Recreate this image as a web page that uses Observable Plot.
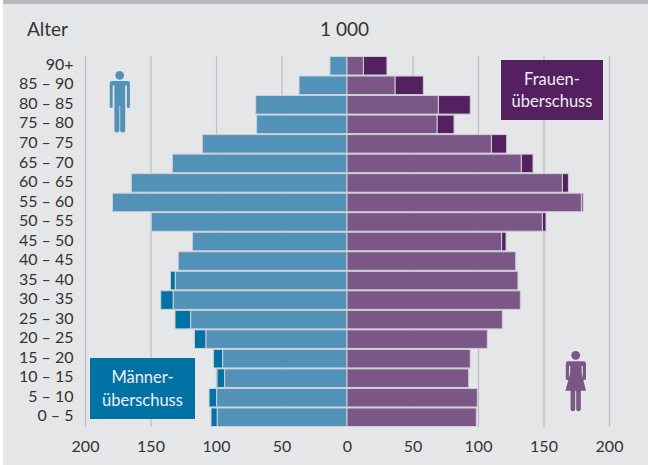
<!DOCTYPE html>
<html><head><meta charset="utf-8">
<script src="https://cdn.jsdelivr.net/npm/d3@7"></script>
<script src="https://cdn.jsdelivr.net/npm/@observablehq/plot@0.6"></script>
<style>
html,body{margin:0;padding:0;background:#fff;}
#wrap{position:relative;width:648px;height:465px;overflow:hidden;font-family:Lato,sans-serif;color:#333;}
#panel{position:absolute;left:3px;top:4px;right:0;bottom:0;background:#e5e6e8;}
#band{position:absolute;left:3px;top:0;right:0;height:4px;background:#b9babd;}
#chart{position:absolute;left:0;top:0;}
#chart svg{background:transparent!important;display:block;}
.head{position:absolute;font-size:19px;line-height:22px;white-space:nowrap;}
.box{position:absolute;color:#f0eef2;font-size:16.5px;line-height:22.5px;text-align:center;display:flex;align-items:center;justify-content:center;}
.icon{position:absolute;left:0;top:0;}
</style></head>
<body>
<div id="wrap">
<div id="panel"></div><div id="band"></div>
<div id="chart"></div>
<div class="head" style="left:27px;top:18px">Alter</div>
<div class="head" style="left:320px;top:18px">1 000</div>
<div class="box" style="left:501px;top:60px;width:102px;height:60px;background:#55205f">Frauen-<br>überschuss</div>
<div class="box" style="left:90px;top:358px;width:105px;height:61px;background:#0072a3">Männer-<br>überschuss</div>
<svg class="icon" width="648" height="465">
  <g fill="#5291b8">
    <circle cx="119.7" cy="75.3" r="4.4"/>
    <path d="M111.5 81h16.2q2.2 0 2.2 2.2V106.5a1.5 1.5 0 0 1-3 0V85.5h-1.7V130a1.7 1.7 0 0 1-5 0V106h-.8V130a1.7 1.7 0 0 1-5 0V85.5h-1.7V106.5a1.5 1.5 0 0 1-3 0V83.2q0-2.2 2.8-2.2z"/>
  </g>
  <g fill="#7a5787">
    <circle cx="575.7" cy="355.3" r="4.4"/>
    <path d="M568 361.3h15.6q2.4 0 2.4 2.4V378.5a1.6 1.6 0 0 1-3.2 0V366h-1.3l.3 8 4.2 16.7h-5.2V409a1.8 1.8 0 0 1-4.6 0V390.7h-1V409a1.8 1.8 0 0 1-4.6 0V390.7h-5.2L570 374l.3-8H569V378.5a1.6 1.6 0 0 1-3.2 0V363.7q0-2.4 2.2-2.4z"/>
  </g>
</svg>
</div>
<script>
const ages = ["90+","85 – 90","80 – 85","75 – 80","70 – 75","65 – 70","60 – 65","55 – 60","50 – 55","45 – 50","40 – 45","35 – 40","30 – 35","25 – 30","20 – 25","15 – 20","10 – 15","5 – 10","0 – 5"];
const menBase   = [13,36.6,69.7,69,110.4,133.3,164.6,179,149.4,118,128.8,131,132.6,119.3,107.6,94.9,93.4,99.5,99];
const menTotal  = [13,36.6,69.7,69,110.4,133.3,164.6,179,149.4,118,128.8,134.8,142.2,131.3,116.5,102,99.2,105.3,103.8];
const womenBase  = [12.5,36.6,69.7,68.7,110.2,133,164.4,178.9,149.1,118,128.8,130.5,132.3,118.6,107.1,94.1,92.9,99.5,98.7];
const womenTotal = [30.5,58.3,94.1,81.7,121.9,142,169,180.2,151.9,121.4,128.8,130.5,132.3,118.6,107.1,94.1,92.9,99.5,98.7];
const xTicks = [-200,-150,-100,-50,0,50,100,150,200];
const gridTicks = [-200,-150,-100,-50,50,100,150,200];

const rows = ages.map((age,i)=>({age,mb:menBase[i],mt:menTotal[i],wb:womenBase[i],wt:womenTotal[i]}));
const edge = {stroke:"#cfd0d8", strokeWidth:1};
const plot = Plot.plot({
  width:648, height:465,
  marginLeft:85, marginRight:39, marginTop:56, marginBottom:38,
  style:{background:"transparent", fontFamily:"Lato,sans-serif", fontSize:"16px", color:"#333", overflow:"visible"},
  x:{domain:[-200,200], label:null},
  y:{domain:ages, padding:0, round:false, label:null},
  marks:[
    Plot.ruleX(gridTicks,{stroke:"#bcbdc0", strokeWidth:1.2, strokeOpacity:1}),
    Plot.barX(rows,{y:"age",x1:d=>-d.mt,x2:d=>-d.mb,fill:"#0072a3",...edge,insetTop:0.5,insetBottom:0.5}),
    Plot.barX(rows,{y:"age",x1:d=>d.wb,x2:d=>d.wt,fill:"#55205f",...edge,insetTop:0.5,insetBottom:0.5}),
    Plot.barX(rows,{y:"age",x1:d=>-d.mb,x2:0,fill:"#5291b8",...edge,insetTop:0.5,insetBottom:0.5}),
    Plot.barX(rows,{y:"age",x1:0,x2:d=>d.wb,fill:"#7a5787",...edge,insetTop:0.5,insetBottom:0.5}),
    Plot.axisX({ticks:xTicks,tickSize:0,tickPadding:13,tickFormat:d=>Math.abs(d),label:null,fill:"#333"}),
    Plot.axisY({tickSize:0,tickPadding:12,dy:-1.5,label:null,fill:"#333"})
  ]
});
document.getElementById("chart").appendChild(plot);
</script>
</body></html>
